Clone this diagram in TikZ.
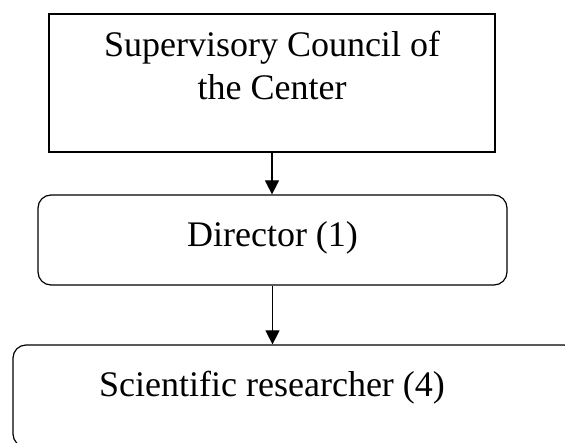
\documentclass[tikz,border=0pt]{standalone}
\usepackage{fontspec}
\setmainfont{Liberation Serif}
\usetikzlibrary{positioning}
\usetikzlibrary{arrows.meta}
\tikzset{
	every node/.style = {font=\fontsize{36}{43}\selectfont},
	box/.style = {draw, line width=1.2pt, inner sep=0pt},
	roundbox/.style = {box, rounded corners=13pt},
	txt/.style = {inner sep=0pt, align=center, anchor=north},
	arr/.style = {line width=1.2pt, -{Triangle[length=14pt,width=14pt]}}
}

\begin{document}
\begin{tikzpicture}[x=1pt, y=-1pt]
		\useasboundingbox (0,0) rectangle (565,443);
		\clip (0,0) rectangle (565,443);
		% boxes
		\node[box, minimum width=446pt, minimum height=138pt] (council) at (272,83) {};
		\node[roundbox, minimum width=469pt, minimum height=90pt] (director) at (272.5,240) {};
		\node[roundbox, minimum width=564pt, minimum height=102pt] (researcher) at (295,396) {};
		% texts
		\node[txt, below=18pt of council.north] (councilText) {Supervisory Council of\\the Center};
		\node[txt, below=27pt of director.north] (directorText) {Director (1)};
		\node[txt, below=27pt of researcher.north -| council.north] (researcherText) {Scientific researcher (4)};
		% arrows
		\draw[arr] (council.south) -- (council.south |- director.north);
		\draw[arr] (director.south) -- (director.south |- researcher.north);
\end{tikzpicture}
\end{document}
